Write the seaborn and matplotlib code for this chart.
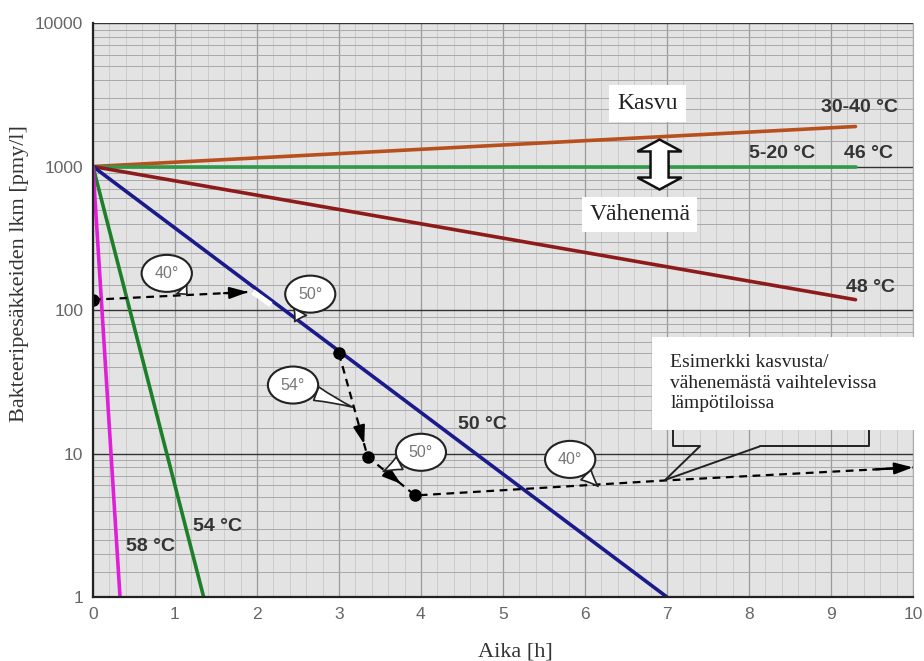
import matplotlib
matplotlib.use("Agg")
import matplotlib.pyplot as plt
from matplotlib.patches import Polygon, Rectangle
from matplotlib.ticker import LogLocator, MultipleLocator
import pandas as pd
import seaborn as sns

# temperature lines: all start at 1000 pmy/l at t=0
line_names = ["30-40 °C", "5-20 °C / 46 °C", "48 °C", "50 °C", "54 °C", "58 °C"]
start_count = 1000
end_hours = [9.3, 9.3, 9.3, 7.0, 1.35, 0.33]
end_counts = [1900, 1000, 118, 1, 1, 1]
line_colors = ["#B8501E", "#2E9A4A", "#8E1B1B", "#1A1A8C", "#1E7F2A", "#E020D8"]

# example path with changing temperatures
path_hours = [0.0, 1.95, 3.0, 3.35, 3.93, 7.0, 10.0]
path_counts = [118, 134, 50, 9.5, 5.1, 6.5, 8.0]

# callout bubbles: text, bubble position, tail tip
bubble_text = ["40°", "50°", "54°", "50°", "40°"]
bubble_hours = [0.9, 2.65, 2.44, 4.0, 5.82]
bubble_counts = [180, 129, 30, 10.2, 9.1]
tail_hours = [1.15, 2.46, 3.17, 3.54, 6.16]
tail_counts = [128, 83, 21, 7.5, 5.9]

rows = []
for name, h, c in zip(line_names, end_hours, end_counts):
    rows.append({"line": name, "Aika": 0.0, "lkm": start_count})
    rows.append({"line": name, "Aika": h, "lkm": c})
df = pd.DataFrame(rows)

sns.set_style("white")
fig = plt.figure(figsize=(9.24, 6.61), dpi=100)
ax = fig.add_axes([0.1006, 0.0968, 0.8874, 0.8684])
ax.set_facecolor("#E3E3E3")

sns.lineplot(data=df, x="Aika", y="lkm", hue="line", palette=line_colors,
             linewidth=2.6, legend=False, ax=ax)
ax.set_xlabel("")
ax.set_ylabel("")

ax.set_yscale("log")
ax.set_xlim(0, 10)
ax.set_ylim(1, 10000)

ax.xaxis.set_major_locator(MultipleLocator(1))
ax.xaxis.set_minor_locator(MultipleLocator(0.2))
ax.yaxis.set_minor_locator(LogLocator(base=10, subs=[1.5, 2, 2.5, 3, 4, 5, 6, 7, 8, 9]))
ax.yaxis.set_minor_formatter(plt.NullFormatter())
ax.set_yticks([1, 10, 100, 1000, 10000])
ax.set_yticklabels(["1", "10", "100", "1000", "10000"])

ax.grid(which="major", axis="x", color="#9A9A9A", linewidth=0.9)
ax.grid(which="minor", axis="x", color="#C8C8C8", linewidth=0.6)
ax.grid(which="major", axis="y", color="#333333", linewidth=1.0)
ax.grid(which="minor", axis="y", color="#A8A8A8", linewidth=0.7)
ax.set_axisbelow(True)

ax.spines["top"].set_visible(False)
ax.spines["right"].set_color("#AAAAAA")
for side in ["left", "bottom"]:
    ax.spines[side].set_color("#222222")
    ax.spines[side].set_linewidth(1.6)

ax.tick_params(axis="both", which="major", direction="inout", length=7, width=1.4,
               labelsize=12.5, labelcolor="#666666", color="#222222")
ax.tick_params(axis="x", which="minor", direction="inout", length=4, width=1.0, color="#222222")
ax.tick_params(axis="y", which="minor", length=0)
for lab in ax.get_xticklabels() + ax.get_yticklabels():
    lab.set_fontfamily("Liberation Sans")

ax.text(0.515, -0.096, "Aika [h]", transform=ax.transAxes, ha="center", va="center",
        fontfamily="Liberation Serif", fontsize=16, color="#333333")
ax.text(-0.089, 0.564, "Bakteeripesäkkeiden lkm [pmy/l]", transform=ax.transAxes,
        ha="center", va="center", rotation=90, fontfamily="Liberation Serif",
        fontsize=16, color="#333333")

# example path: dashed black, except the stretch that follows the 50 °C line
dash = dict(color="black", linestyle=(0, (3.5, 2.5)), linewidth=1.6)
ax.plot(path_hours[:2], path_counts[:2], **dash)
ax.plot(path_hours[1:3], path_counts[1:3], color="white", linewidth=4,
        linestyle=(0, (4, 17)))
ax.plot(path_hours[2:], path_counts[2:], **dash)
for i in [0, 2, 3, 4]:
    ax.plot(path_hours[i], path_counts[i], "o", color="black", markersize=8)

# arrow heads along the path: (segment, position of the tip along it)
for i, f in [(0, 0.97), (2, 0.88), (3, 0.7), (5, 1.0)]:
    x0, y0 = path_hours[i], path_counts[i]
    x1, y1 = path_hours[i + 1], path_counts[i + 1]
    g = f - 0.15
    xs, ys = x0 + (x1 - x0) * g, y0 * (y1 / y0) ** g
    xe, ye = x0 + (x1 - x0) * f, y0 * (y1 / y0) ** f
    ax.annotate("", xy=(xe, ye), xytext=(xs, ys),
                arrowprops=dict(arrowstyle="-|>,head_length=1.1,head_width=0.35",
                                color="black", lw=1.6, shrinkA=0, shrinkB=0))

# speech bubbles
for t, bx, by, tx, ty in zip(bubble_text, bubble_hours, bubble_counts, tail_hours, tail_counts):
    ax.annotate(t, xy=(tx, ty), xytext=(bx, by), ha="center", va="center",
                fontsize=11.5, color="#777777", fontfamily="Liberation Sans",
                bbox=dict(boxstyle="ellipse,pad=0.35", fc="white", ec="#222222", lw=1.5),
                arrowprops=dict(arrowstyle="wedge,tail_width=0.9,shrink_factor=0.4",
                                fc="white", ec="#222222", lw=1.2, shrinkA=0, shrinkB=0))

# partially hidden callout under the description box
ax.plot([7.07, 7.07, 7.4], [14.7, 11.2, 11.2], color="#222222", lw=1.4)
ax.plot([7.4, 6.98], [11.2, 6.55], color="#222222", lw=1.4)
ax.plot([8.13, 6.98], [11.2, 6.55], color="#222222", lw=1.4)
ax.plot([8.13, 9.46, 9.46], [11.2, 11.2, 14.7], color="#222222", lw=1.4)

ax.add_patch(Rectangle((0.682, 0.291), 0.32, 0.162, transform=ax.transAxes,
                       fc="white", ec="none", zorder=6, clip_on=False))
ax.text(7.04, 31, "Esimerkki kasvusta/\nvähenemästä vaihtelevissa\nlämpötiloissa",
        ha="left", va="center", fontsize=14, fontfamily="Liberation Serif",
        color="#222222", linespacing=1.3, zorder=7)

# growth / decline labels with double arrow
ax.text(6.76, 2750, "Kasvu", ha="center", va="center", fontsize=17,
        fontfamily="Liberation Serif", color="#222222",
        bbox=dict(boxstyle="square,pad=0.35", fc="white", ec="none"))
ax.text(6.67, 460, "Vähenemä", ha="center", va="center", fontsize=17,
        fontfamily="Liberation Serif", color="#222222",
        bbox=dict(boxstyle="square,pad=0.3", fc="white", ec="none"))
cx, sw, hw = 6.91, 0.11, 0.27
arrow_pts = [(cx, 1541), (cx + hw, 1273), (cx + sw, 1273), (cx + sw, 838),
             (cx + hw, 838), (cx, 691), (cx - hw, 838), (cx - sw, 838),
             (cx - sw, 1273), (cx - hw, 1273)]
ax.add_patch(Polygon(arrow_pts, closed=True, fc="white", ec="#111111", lw=1.8, zorder=5))

# line labels
lab = dict(fontsize=14, fontweight="bold", color="#333333", fontfamily="Liberation Sans")
ax.text(9.35, 2580, "30-40 °C", ha="center", va="center", **lab)
ax.text(8.4, 1240, "5-20 °C", ha="center", va="center", **lab)
ax.text(9.46, 1240, "46 °C", ha="center", va="center", **lab)
ax.text(9.48, 144, "48 °C", ha="center", va="center", **lab)
ax.text(4.75, 15.9, "50 °C", ha="center", va="center", **lab)
ax.text(1.52, 3.1, "54 °C", ha="center", va="center", **lab)
ax.text(0.7, 2.25, "58 °C", ha="center", va="center", **lab)

fig.savefig("out.png", dpi=100)
